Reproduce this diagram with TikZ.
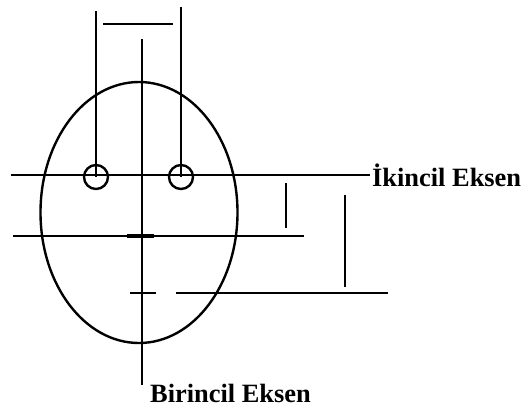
\documentclass[tikz,border=0pt]{standalone}
\usepackage{fontspec}
\setmainfont{Liberation Serif}
\usetikzlibrary{positioning}
\tikzset{every picture/.style={line width=2.4pt}}

\begin{document}
\begin{tikzpicture}[x=1bp,y=-1bp,
 every node/.style={font=\fontsize{26.5}{30}\selectfont\bfseries,inner sep=1pt}]
 \useasboundingbox (0,0) rectangle (531,407);

 % Outline of the head with the two holes on the secondary axis.
 \draw (139,212.5) ellipse [x radius=98.5,y radius=130.5];
 \draw (96,177) circle (12) (181,177) circle (12);
 \draw (96,11)--(96,177);
 \draw (181,7)--(181,177);
 \draw (103,24)--(173,24);

 % Primary axis runs down the middle and is labelled at its foot.
 \coordinate (primtop) at (142,39);
 \coordinate (primfoot) at (142,385);
 \draw (primtop)--(primfoot);
 \node[anchor=west] (birincil) at (148,393) {Birincil Eksen};

 % Secondary axis through both holes.
 \coordinate (secstart) at (11,175);
 \node[anchor=west] (ikincil) at (370,175) {İkincil Eksen};
 \draw (secstart)--(ikincil.west);

 % Reference lines below with their offsets.
 \draw (13,236)--(304,236);
 \draw[line width=3.2pt] (127,236)--(154,236);
 \draw (130,293)--(156,293);
 \draw (176,293)--(388,293);
 \draw (286,183)--(286,228);
 \draw (345,195)--(345,287);
\end{tikzpicture}
\end{document}
